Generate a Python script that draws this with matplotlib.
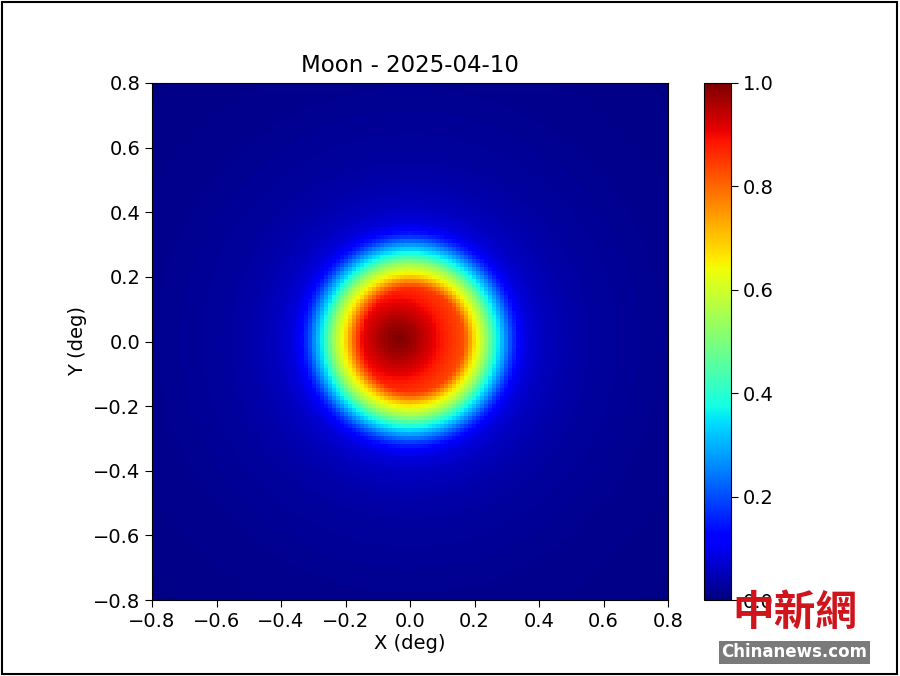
import numpy as np
import matplotlib
matplotlib.use("Agg")
import matplotlib.pyplot as plt
from matplotlib.patches import Rectangle

# Radial brightness profile of the lunar disk
edge_radius = [0.00, 0.13, 0.15, 0.175, 0.20, 0.235, 0.265, 0.295, 0.32, 0.345, 0.37, 0.42, 0.50, 0.60, 0.80, 1.20]
edge_value = [1.00, 1.00, 0.90, 0.80, 0.68, 0.55, 0.40, 0.28, 0.18, 0.11, 0.08, 0.055, 0.038, 0.026, 0.015, 0.005]
edge_center = (0.0, 0.005)

# Inner (core) brightness profile, core slightly left of disk centre
core_radius = [0.00, 0.05, 0.10, 0.15, 0.20, 0.30]
core_value = [1.00, 0.97, 0.92, 0.87, 0.83, 0.80]
core_center = (-0.035, 0.01)

n_pix = 129
extent = [-0.8, 0.8, -0.8, 0.8]
cbar_ticks = [0.0, 0.2, 0.4, 0.6, 0.8, 1.0]
axis_ticks = [-0.8, -0.6, -0.4, -0.2, 0.0, 0.2, 0.4, 0.6, 0.8]

xs = np.linspace(extent[0], extent[1], n_pix)
ys = np.linspace(extent[2], extent[3], n_pix)
X, Y = np.meshgrid(xs, ys)
r1 = np.hypot(X - edge_center[0], Y - edge_center[1])
r2 = np.hypot(X - core_center[0], Y - core_center[1])
img = np.minimum(np.interp(r1, edge_radius, edge_value),
                 np.interp(r2, core_radius, core_value))

fig = plt.figure(figsize=(9, 6.76), dpi=100)
ax = fig.add_axes([152/900, 76/676, 516/900, 517/676])
cax = fig.add_axes([704/900, 76/676, 27/900, 517/676])

im = ax.imshow(img, cmap="jet", vmin=0, vmax=1, origin="lower",
               extent=extent, interpolation="nearest", aspect="auto")
ax.set_xticks(axis_ticks)
ax.set_yticks(axis_ticks)
ax.tick_params(labelsize=14, length=5)
ax.set_xlabel("X (deg)", fontsize=14, labelpad=2)
ax.set_ylabel("Y (deg)", fontsize=14, labelpad=4)
ax.set_title("Moon - 2025-04-10", fontsize=16.5, pad=8)

cb = fig.colorbar(im, cax=cax, ticks=cbar_ticks)
cb.ax.tick_params(labelsize=14, length=5)

# figure frame
fig.add_artist(Rectangle((2/900, 2/676), 895/900, 672/676, transform=fig.transFigure,
                         fill=False, edgecolor="black", linewidth=1.5))

# watermark
fig.text(795/900, 1 - 613/676, "中新網", color="#d0141c", fontsize=30, fontweight="bold",
         ha="center", va="center", family=["Noto Sans CJK TC", "DejaVu Sans"])
fig.text(794/900, 1 - 652/676, "Chinanews.com", color="white", fontsize=12, fontweight="bold",
         ha="center", va="center", family=["DejaVu Sans"],
         bbox=dict(boxstyle="square,pad=0.15", facecolor="#7a7a7a", edgecolor="none"))

fig.savefig("out.png", dpi=100)
